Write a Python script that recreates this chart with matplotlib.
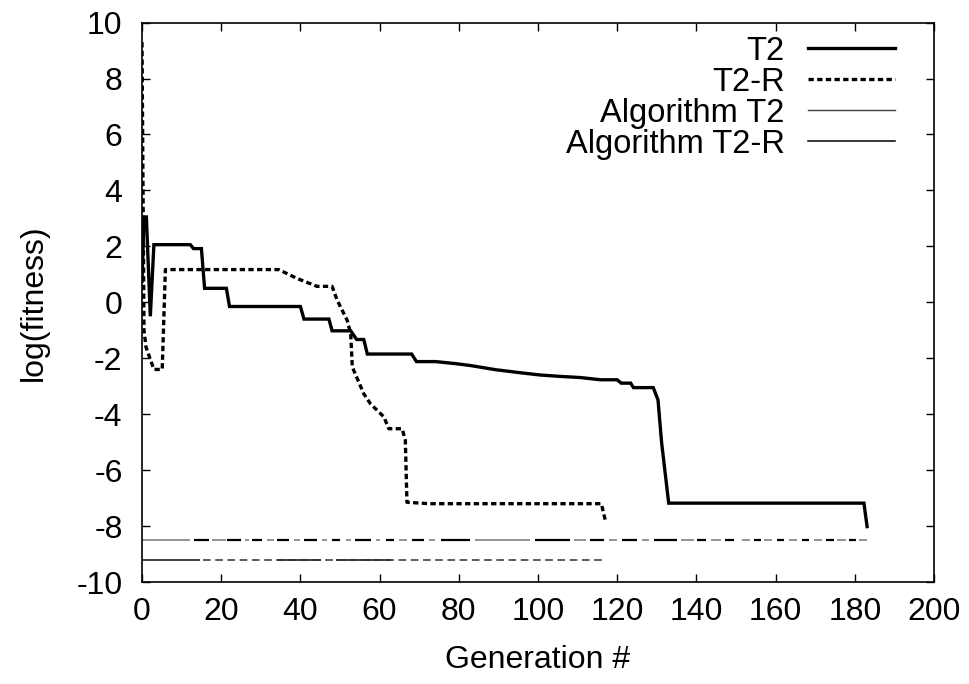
import numpy as np
import matplotlib
matplotlib.use('Agg')
import matplotlib.pyplot as plt

plt.rcParams['font.family'] = ['Liberation Sans', 'DejaVu Sans']
plt.rcParams['axes.unicode_minus'] = False

# best-so-far log(fitness) per generation
t2_gen = [0, 0.5, 1.1, 2.1, 3.0, 12.2, 13.0, 15.0, 15.8, 21.3, 22.1, 40.0, 40.9, 47.2, 48.0,
          52.7, 54.2, 56.0, 56.9, 68.1, 69.3, 74.2, 79.6, 82.9, 89.3, 95.6, 100.6, 105.7,
          110.7, 115.8, 120.0, 121.0, 123.4, 124.1, 129.1, 130.3, 131.2, 133.0, 182.3, 183.1]
t2_fit = [0.75, 3.05, 3.05, -0.5, 2.06, 2.06, 1.92, 1.92, 0.5, 0.5, -0.15, -0.15, -0.6, -0.6,
          -1.02, -1.02, -1.33, -1.33, -1.85, -1.85, -2.12, -2.12, -2.2, -2.26, -2.41, -2.52,
          -2.6, -2.65, -2.69, -2.77, -2.77, -2.89, -2.89, -3.05, -3.05, -3.49, -5.0, -7.18,
          -7.18, -8.02]

t2r_gen = [0, 0.5, 1.0, 3.0, 5.1, 5.9, 34.5, 39.2, 44.2, 48.0, 49.3, 51.8, 52.7, 53.1,
           56.0, 57.7, 61.1, 62.3, 65.7, 66.5, 66.9, 72.8, 116.0, 117.0]
t2r_fit = [9.3, -1.0, -1.6, -2.4, -2.4, 1.17, 1.17, 0.85, 0.57, 0.57, 0.07, -0.64, -1.12,
           -2.31, -3.27, -3.63, -4.1, -4.52, -4.52, -4.94, -7.15, -7.2, -7.2, -7.8]

# algorithm runs shown as horizontal bands: pieces of the run
alg_t2_level = -8.5
alg_t2_black = [(13.1, 17.0), (21.5, 24.9), (27.8, 30.4), (34.1, 37.1), (40.9, 44.2),
                (48.0, 50.1), (53.9, 57.7), (61.5, 63.6), (68.2, 71.2), (75.4, 82.9),
                (99.2, 108.0), (113.1, 116.6), (121.3, 125.1), (129.2, 135.1), (140.2, 142.3),
                (147.3, 149.5), (154.5, 156.2), (160.4, 162.1), (166.7, 168.4), (172.6, 174.7),
                (178.5, 180.2)]
alg_t2_gray = [(0, 12.1), (17.7, 21.1), (26.1, 27.0), (31.6, 33.3), (38.3, 40.0), (45.5, 46.8),
               (51.4, 52.7), (59.0, 60.2), (64.8, 67.0), (72.4, 74.1), (84.2, 98.1),
               (109.0, 112.0), (117.9, 120.0), (126.3, 128.0), (136.0, 139.3), (143.6, 146.1),
               (151.4, 153.5), (157.0, 159.1), (163.3, 165.4), (169.6, 171.7), (175.6, 177.7),
               (181.0, 183.1)]

alg_t2r_level = -9.2
alg_t2r_solid = [(0, 14.6), (34.0, 45.1), (49.1, 62.8)]
alg_t2r_dash = (15.5, 117.0)

fig = plt.figure(figsize=(9.7, 6.84), dpi=100)
ax = fig.add_axes([0.1464, 0.1491, 0.9629 - 0.1464, 0.967 - 0.1491])

ax.plot(t2_gen, t2_fit, color='black', lw=2.4, label='T2', solid_joinstyle='miter')
ax.plot(t2r_gen, t2r_fit, color='black', lw=2.4, linestyle=(0, (1.6, 1.0)), label='T2-R')

# Algorithm T2
for a, b in alg_t2_gray:
    ax.plot([a, b], [alg_t2_level] * 2, color='#808080', lw=1.2, solid_capstyle='butt')
for a, b in alg_t2_black:
    ax.plot([a, b], [alg_t2_level] * 2, color='black', lw=1.6, solid_capstyle='butt')
ax.plot([], [], color='#404040', lw=1.0, label='Algorithm T2')

# Algorithm T2-R
ax.plot(alg_t2r_dash, [alg_t2r_level] * 2, color='#303030', lw=1.1, linestyle=(0, (5, 3)))
for a, b in alg_t2r_solid:
    ax.plot([a, b], [alg_t2r_level] * 2, color='#303030', lw=1.3, solid_capstyle='butt')
ax.plot([], [], color='black', lw=1.1, label='Algorithm T2-R')

ax.set_xlim(0, 200)
ax.set_ylim(-10, 10)
ax.set_xticks(np.arange(0, 201, 20))
ax.set_yticks(np.arange(-10, 11, 2))
ax.tick_params(direction='in', length=6, width=1, top=True, right=True, labelsize=23)
ax.tick_params(axis='x', pad=11)
ax.tick_params(axis='y', pad=14)
for s in ax.spines.values():
    s.set_linewidth(1.2)

ax.set_xlabel('Generation #', fontsize=23, labelpad=13)
ax.set_ylabel('log(fitness)', fontsize=23, labelpad=20)

ax.legend(loc='upper right', frameon=False, markerfirst=False, fontsize=23.5,
          handlelength=2.65, handletextpad=0.72, labelspacing=0.0,
          borderaxespad=0.0, bbox_to_anchor=(0.967, 1.0))

plt.savefig('out.png', dpi=100)
